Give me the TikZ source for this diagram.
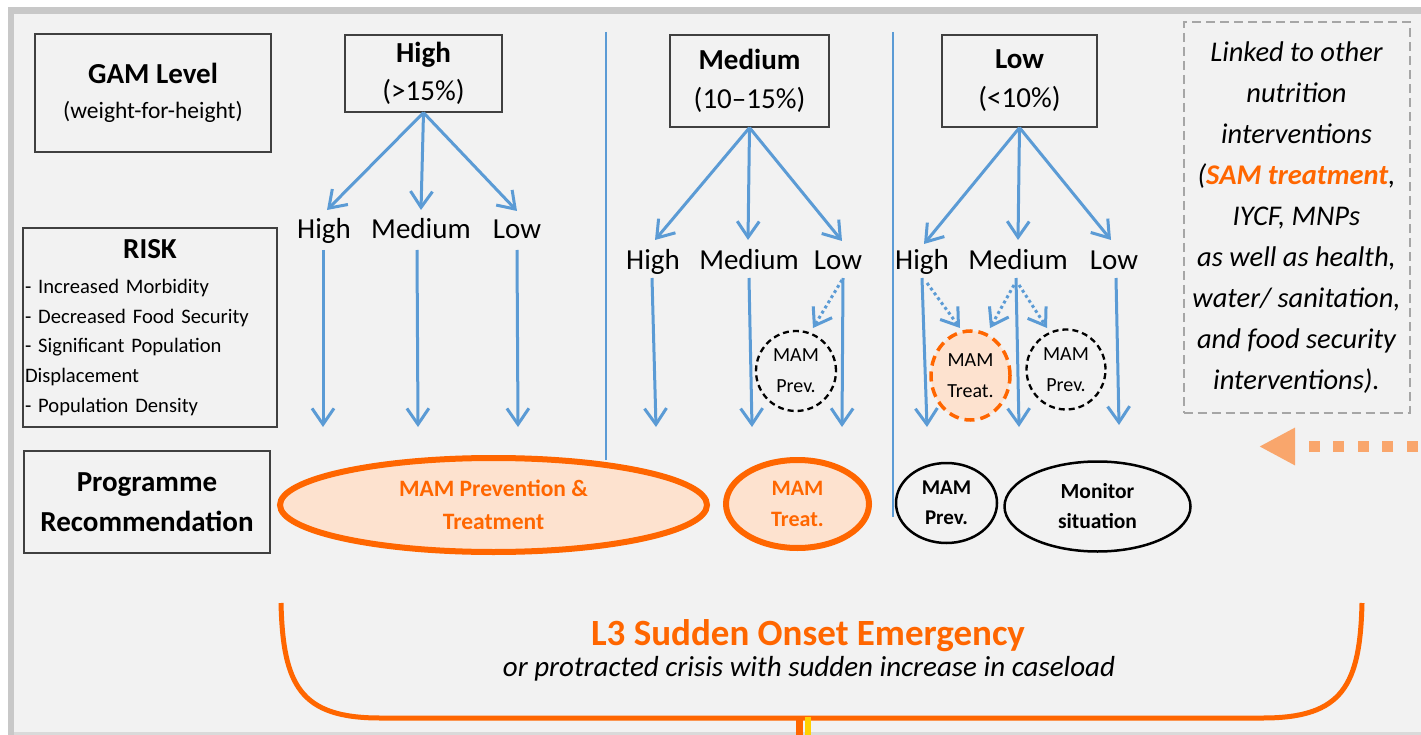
\documentclass[tikz,border=0pt]{standalone}
\usepackage{fontspec}
\setmainfont{Carlito}
\usetikzlibrary{arrows.meta,shapes.geometric,positioning}

\definecolor{arrblue}{HTML}{5B9BD5}
\definecolor{emorange}{HTML}{FF6600}
\definecolor{peach}{HTML}{FDE2CF}
\definecolor{lightorange}{HTML}{F9A66C}
\definecolor{bggray}{HTML}{F2F2F2}
\definecolor{framegray}{HTML}{C8C8C8}
\definecolor{edgegray}{HTML}{DADADA}
\definecolor{dashgray}{HTML}{A6A6A6}
\definecolor{stemyellow}{HTML}{FFD000}

\begin{document}
\begin{tikzpicture}
  [ x=1pt, y=-1pt
  , every node/.style={inner sep=0pt, font=\fontsize{29}{35}\selectfont}
  , hbox/.style={draw=black!75, line width=1.3pt, align=center}
  , lvl/.style={anchor=base}
  , flow/.style={draw=arrblue, line width=3pt, -{Straight Barb[length=16pt,width=22pt]}}
  , hint/.style={flow, dash pattern=on 3pt off 3pt}
  , sep/.style={draw=arrblue, line width=1.2pt}
  , recom/.style={ellipse, draw=emorange, line width=6pt, fill=peach, text=emorange, align=center}
  , watch/.style={ellipse, draw=black, line width=2.5pt, align=center}
  , maybe/.style={ellipse, draw=black, line width=2.3pt, dash pattern=on 6pt off 4pt, align=center, font=\fontsize{20}{31}\selectfont}
  ]

  \useasboundingbox (0,0) rectangle (1421,735);
  \fill[framegray] (8,7) rectangle (1440,745);
  \fill[bggray] (14,14) rectangle (1440,732);
  \fill[edgegray] (14,732) rectangle (1440,745);

  \draw[sep] (606,32) -- (606,460);
  \draw[sep] (893,32) -- (893,517);

  % left column
  \node[hbox, minimum width=236pt, minimum height=118pt] (gam) at (153,93)
    {\textbf{GAM Level}\\{\fontsize{23.5}{35}\selectfont (weight-for-height)}};
  \node[hbox, minimum width=254pt, minimum height=199pt, text width=250pt, align=left,
        font=\fontsize{20.6}{29.8}\selectfont] (risk) at (150,327.5)
    {\makebox[250pt]{\fontsize{29}{35}\selectfont\bfseries RISK}\\[5.2pt]
     - Increased Morbidity\\
     - Decreased Food Security\\
     - Significant Population\\
     Displacement\\
     - Population Density};
  \node[hbox, minimum width=246pt, minimum height=102pt,
        font=\bfseries\fontsize{29}{40}\selectfont] (prog) at (147,502)
    {Programme\\Recommendation};

  % GAM levels
  \node[hbox, minimum width=157pt, minimum height=77pt, font=\fontsize{29}{38}\selectfont]
    (hi) at (423.5,73.5) {\textbf{High}\\(>15\%)};
  \node[hbox, minimum width=159pt, minimum height=92pt, font=\fontsize{29}{39}\selectfont]
    (med) at (749.5,81) {\textbf{Medium}\\(10--15\%)};
  \node[hbox, minimum width=155pt, minimum height=92pt, font=\fontsize{29}{39}\selectfont]
    (lo) at (1019.5,81) {\textbf{Low}\\(<10\%)};

  % risk levels
  \node[lvl] (hh) at (324,239) {High};
  \node[lvl] (hm) at (421,239) {Medium};
  \node[lvl] (hl) at (517,239) {Low};
  \node[lvl] (mh) at (653,270) {High};
  \node[lvl] (mm) at (749,270) {Medium};
  \node[lvl] (ml) at (838,270) {Low};
  \node[lvl] (lh) at (922,270) {High};
  \node[lvl] (lm) at (1018,270) {Medium};
  \node[lvl] (ll) at (1114,270) {Low};

  \coordinate (hh-t) at (327,210);
  \coordinate (hm-t) at (421,210);
  \coordinate (hl-t) at (517,211);
  \coordinate (mh-t) at (655,240);
  \coordinate (mm-t) at (748,240);
  \coordinate (ml-t) at (842,241);
  \coordinate (lh-t) at (924,244);
  \coordinate (lm-t) at (1018,240);
  \coordinate (ll-t) at (1111,240);

  \draw[flow] (hi.south) -- (hh-t);
  \draw[flow] (hi.south) -- (hm-t);
  \draw[flow] (hi.south) -- (hl-t);
  \draw[flow] (med.south) -- (mh-t);
  \draw[flow] (med.south) -- (mm-t);
  \draw[flow] (med.south) -- (ml-t);
  \draw[flow] (lo.south) -- (lh-t);
  \draw[flow] (lo.south) -- (lm-t);
  \draw[flow] (lo.south) -- (ll-t);

  \coordinate (hh-e) at (323,427);
  \coordinate (hm-e) at (418,427);
  \coordinate (hl-e) at (518,427);
  \coordinate (mh-e) at (656,427);
  \coordinate (mm-e) at (752,427);
  \coordinate (ml-e) at (842,427);
  \coordinate (lh-e) at (927,427);
  \coordinate (lm-e) at (1019,427);
  \coordinate (ll-e) at (1119,425);

  \draw[flow] ([xshift=-1pt,yshift=-11pt]hh.base) -- (hh-e);
  \draw[flow] ([xshift=-4pt,yshift=-11pt]hm.base) -- (hm-e);
  \draw[flow] ([yshift=-11pt]hl.base) -- (hl-e);
  \draw[flow] ([xshift=-1pt,yshift=-8pt]mh.base) -- (mh-e);
  \draw[flow] ([yshift=-8pt]mm.base) -- (mm-e);
  \draw[flow] ([xshift=5pt,yshift=-8pt]ml.base) -- (ml-e);
  \draw[flow] ([yshift=-8pt]lh.base) -- (lh-e);
  \draw[flow] ([xshift=-2pt,yshift=-8pt]lm.base) -- (lm-e);
  \draw[flow] ([xshift=2pt,yshift=-8pt]ll.base) -- (ll-e);

  % optional prevention / treatment
  \node[maybe, minimum width=80pt, minimum height=80pt] (mprev) at (796,371) {MAM\\Prev.};
  \node[maybe, draw=emorange, fill=peach, line width=3.5pt, dash pattern=on 10pt off 6pt,
        minimum width=79pt, minimum height=89pt] (ltreat) at (970.5,375.5) {MAM\\Treat.};
  \node[maybe, minimum width=79pt, minimum height=80pt] (lprev) at (1066,369.5) {MAM\\Prev.};

  \coordinate (mprev-t) at (813,328);
  \coordinate (ltreat-t) at (960,328);
  \coordinate (ltreat-u) at (990,328);
  \coordinate (lprev-t) at (1047,328);

  \draw[hint] ([xshift=4pt,yshift=-10pt]ml.base) -- (mprev-t);
  \draw[hint] ([xshift=5pt,yshift=-13pt]lh.base) -- (ltreat-t);
  \draw[hint] ([xshift=-4pt,yshift=-15pt]lm.base) -- (ltreat-u);
  \draw[hint] ([xshift=1pt,yshift=-15pt]lm.base) -- (lprev-t);

  % recommendations
  \node[recom, minimum width=427pt, minimum height=94pt, font=\bfseries\fontsize{23.5}{33}\selectfont]
    (both) at (493.5,505) {MAM Prevention \&\\Treatment};
  \node[recom, minimum width=143pt, minimum height=88pt, font=\bfseries\fontsize{22}{31}\selectfont]
    (treat) at (797.5,504) {MAM\\Treat.};
  \node[watch, minimum width=101pt, minimum height=80pt, font=\bfseries\fontsize{21}{30}\selectfont]
    (prev) at (946.5,503) {MAM\\Prev.};
  \node[watch, minimum width=186pt, minimum height=90pt, font=\bfseries\fontsize{21.5}{30}\selectfont]
    (monit) at (1097.5,506.5) {Monitor\\situation};

  % linked interventions
  \node[draw=dashgray, line width=2pt, dash pattern=on 9pt off 5pt, minimum width=226pt,
        minimum height=391pt, align=center, font=\itshape\fontsize{28.5}{41.1}\selectfont]
    (links) at (1296.5,217.5)
    {Linked to other\\nutrition\\interventions\\(\textcolor{emorange}{\bfseries SAM treatment},\\IYCF, MNPs\\as well as health,\\water/ sanitation,\\and food security\\interventions).};

  \coordinate (edge) at (1442,446.5);
  \coordinate (aim) at (1259,446.5);
  \draw[lightorange, line width=11pt, dash pattern=on 11pt off 13.5pt,
        -{Triangle[length=36pt,width=35pt]}] (edge) -- (aim);

  % emergency bracket
  \draw[emorange, line width=5pt] (281,603) .. controls (283,685) and (300,718) .. (380,718)
    -- (1263,718) .. controls (1343,718) and (1360,685) .. (1362,603);
  \fill[emorange] (796,718) rectangle (803,735);
  \fill[stemyellow] (805,717) rectangle (811,735);

  \node[text=emorange, font=\bfseries\fontsize{37}{44}\selectfont] (crisis) at (808,636)
    {L3 Sudden Onset Emergency};
  \node[font=\itshape\fontsize{29}{34}\selectfont] (sub) at (809,669)
    {or protracted crisis with sudden increase in caseload};

      %node {GAM Level}
      %node {RISK}
      %node {Programme Recommendation}

\end{tikzpicture}
\end{document}
